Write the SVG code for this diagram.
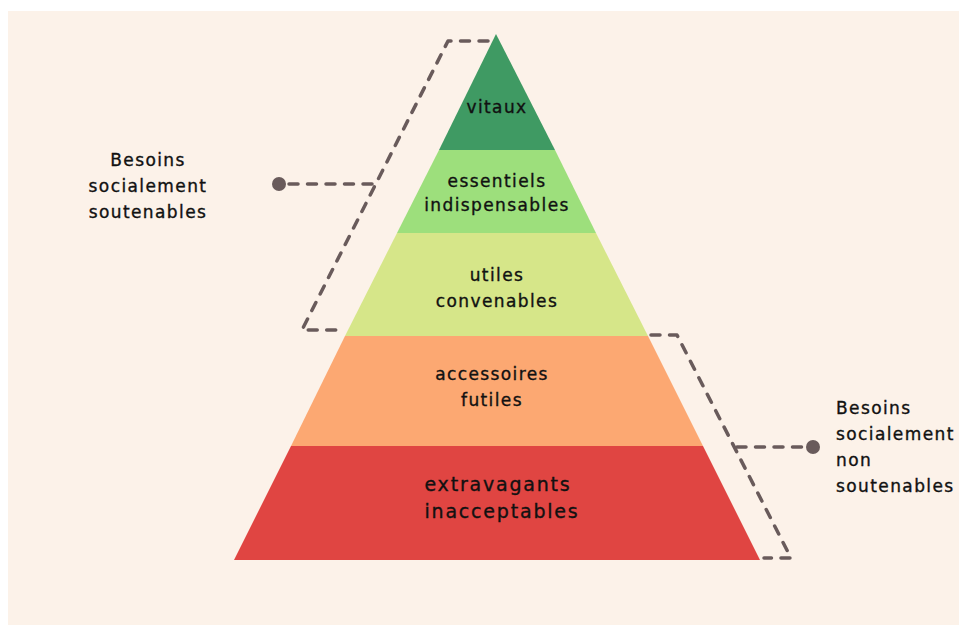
<svg xmlns="http://www.w3.org/2000/svg" width="959" height="625" viewBox="0 0 959 625">
  <style>
    .lbl { font-family: "DejaVu Sans", "Liberation Sans", sans-serif; font-size: 17px; letter-spacing: 1.4px; fill: #111111; stroke: #111111; stroke-width: 0.35px; }
    .big { font-size: 19px; letter-spacing: 1.8px; }
    .mid { text-anchor: middle; }
    .brace { fill: none; stroke: #695b5b; stroke-width: 3.5; stroke-dasharray: 9 9.5; stroke-linecap: round; stroke-linejoin: round; }
    .dot { fill: #695b5b; }
  </style>

  <!-- page -->
  <rect x="0" y="0" width="959" height="625" fill="#ffffff"/>
  <rect x="8" y="11" width="951" height="614" fill="#fcf2e9"/>

  <!-- pyramid levels, top to bottom -->
  <g id="level-vitaux">
    <polygon points="496,34 555,150 439,150" fill="#3f9a63"/>
    <text class="lbl mid" x="497" y="113">vitaux</text>
  </g>
  <g id="level-essentiels">
    <polygon points="439,150 555,150 596,233 397,233" fill="#9ddf7c"/>
    <text class="lbl mid" x="497" y="187">essentiels</text>
    <text class="lbl mid" x="497" y="211">indispensables</text>
  </g>
  <g id="level-utiles">
    <polygon points="397,233 596,233 648,336 345,336" fill="#d6e689"/>
    <text class="lbl mid" x="497" y="281">utiles</text>
    <text class="lbl mid" x="497" y="307">convenables</text>
  </g>
  <g id="level-accessoires">
    <polygon points="345,336 648,336 703,446 291,446" fill="#fca872"/>
    <text class="lbl mid" x="492" y="380">accessoires</text>
    <text class="lbl mid" x="492" y="406">futiles</text>
  </g>
  <g id="level-extravagants">
    <polygon points="291,446 703,446 760,560 234,560" fill="#e04542"/>
    <text class="lbl big mid" x="498" y="491">extravagants</text>
    <text class="lbl big mid" x="502" y="518">inacceptables</text>
  </g>

  <!-- side captions -->
  <g id="label-soutenables">
    <text class="lbl mid" x="148" y="166">Besoins</text>
    <text class="lbl mid" x="148" y="192">socialement</text>
    <text class="lbl mid" x="148" y="218">soutenables</text>
  </g>
  <g id="label-non-soutenables">
    <text class="lbl" x="836" y="414">Besoins</text>
    <text class="lbl" x="836" y="440">socialement</text>
    <text class="lbl" x="836" y="466">non</text>
    <text class="lbl" x="836" y="492">soutenables</text>
  </g>

  <!-- brackets and leader lines -->
  <g id="connectors">
    <path class="brace" d="M488,41 L448,41 L302,330 L338,330"/>
    <path class="brace" d="M372,184 L280,184"/>
    <circle class="dot" cx="279" cy="184" r="7"/>
    <path class="brace" d="M651,335 L677,335 L791,558 L764,558"/>
    <path class="brace" d="M737,447 L812,447"/>
    <circle class="dot" cx="813" cy="447" r="7"/>
  </g>
</svg>
